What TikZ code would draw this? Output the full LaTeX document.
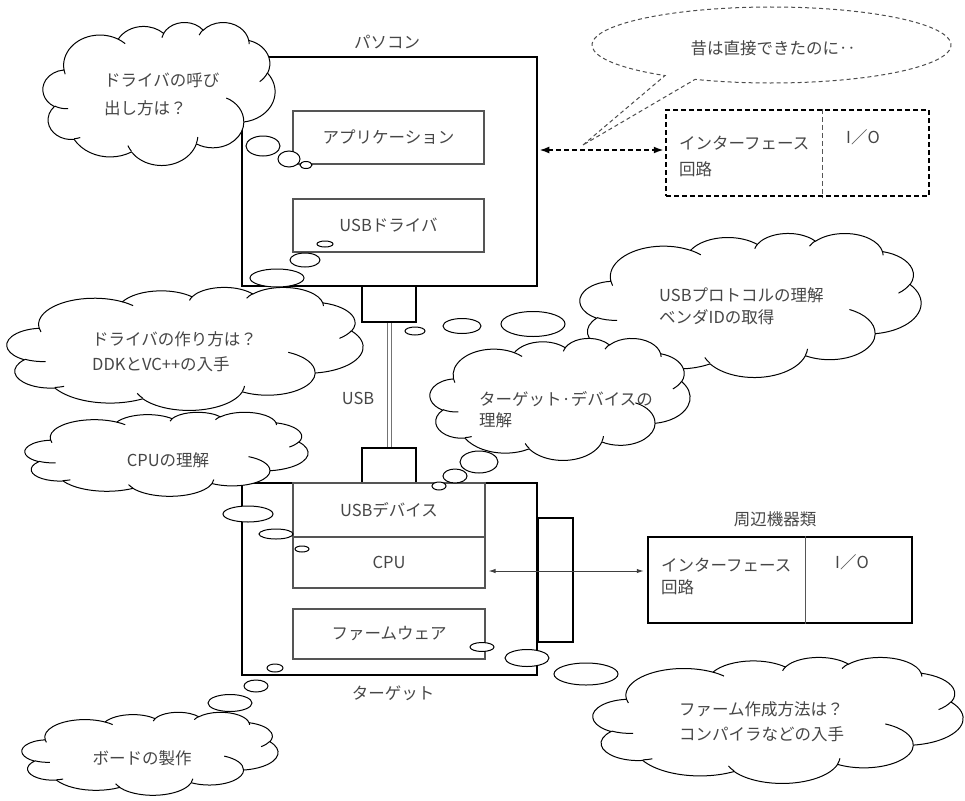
\documentclass[tikz,border=0pt]{standalone}
\usepackage{fontspec}
\setmainfont{Noto Sans CJK JP}
\usetikzlibrary{arrows.meta}
\definecolor{txt}{HTML}{464646}
\definecolor{inl}{HTML}{555555}
\makeatletter
\newcommand\cvtarc[5]{%
 \pgfmathsetmacro\cl@ts{atan2(#2*sin(#4),#3*cos(#4))}%
 \pgfmathsetmacro\cl@te{atan2(#2*sin(#4+#5),#3*cos(#4+#5))}%
 \pgfmathsetmacro\cl@d{\cl@te-\cl@ts}%
 \pgfmathsetmacro\cl@d{\cl@d<0 ? \cl@d+360 : \cl@d}%
 \expandafter\global\expandafter\let\csname cls#1\endcsname\cl@ts
 \expandafter\global\expandafter\let\csname cld#1\endcsname\cl@d}
\makeatother
\cvtarc{a}{67.53}{91.90}{-190.4875}{123.7805}
\cvtarc{b}{53.33}{72.67}{-144.1024}{89.9452}
\cvtarc{c}{43.65}{59.45}{-145.8079}{99.7230}
\cvtarc{d}{48.57}{65.95}{-130.9861}{117.2417}
\cvtarc{e}{53.33}{72.73}{-78.7089}{109.0269}
\cvtarc{f}{67.75}{92.20}{-46.2673}{130.2690}
\cvtarc{g}{57.85}{78.67}{0.6250}{114.0333}
\cvtarc{h}{67.52}{92.15}{22.4516}{115.1726}
\cvtarc{i}{77.20}{105.43}{66.2426}{75.7110}
\cvtarc{j}{43.60}{59.18}{-274.9421}{146.7356}
\cvtarc{k}{43.45}{59.45}{-246.8285}{152.5189}
\cvtarc{ia}{43.45}{59.45}{86.7420}{26.4295}
\cvtarc{ib}{43.60}{59.18}{73.6105}{11.4475}
\cvtarc{ic}{67.52}{92.15}{137.6242}{14.0811}
\cvtarc{id}{67.52}{92.15}{6.4533}{15.9984}
\cvtarc{ie}{57.85}{78.67}{-70.2924}{70.9174}
\cvtarc{if}{53.33}{72.73}{30.3180}{27.7515}
\cvtarc{ig}{48.57}{65.95}{-13.7443}{14.8589}
\cvtarc{ih}{48.57}{65.95}{-149.1815}{18.1954}
\cvtarc{ii}{43.65}{59.45}{-163.4943}{17.6864}
\cvtarc{ij}{67.53}{91.90}{-66.7070}{12.3194}
\cvtarc{ik}{67.53}{91.90}{157.6544}{11.8582}
\newcommand\drawcloud[4]{%
 \begin{scope}[shift={(#1,#2)},xscale=#3/432,yscale=#4/432]
 \draw[cloudline,fill=white] (39.00,143.70)
  arc[start angle=\clsa,delta angle=\clda,x radius=67.53,y radius=91.90]
  arc[start angle=\clsb,delta angle=\cldb,x radius=53.33,y radius=72.67]
  arc[start angle=\clsc,delta angle=\cldc,x radius=43.65,y radius=59.45]
  arc[start angle=\clsd,delta angle=\cldd,x radius=48.57,y radius=65.95]
  arc[start angle=\clse,delta angle=\clde,x radius=53.33,y radius=72.73]
  arc[start angle=\clsf,delta angle=\cldf,x radius=67.75,y radius=92.20]
  arc[start angle=\clsg,delta angle=\cldg,x radius=57.85,y radius=78.67]
  arc[start angle=\clsh,delta angle=\cldh,x radius=67.52,y radius=92.15]
  arc[start angle=\clsi,delta angle=\cldi,x radius=77.20,y radius=105.43]
  arc[start angle=\clsj,delta angle=\cldj,x radius=43.60,y radius=59.18]
  arc[start angle=\clsk,delta angle=\cldk,x radius=43.45,y radius=59.45]
  -- cycle;
 \draw[cloudline]
  (46.93,261.77) arc[start angle=\clsia,delta angle=\cldia,x radius=43.45,y radius=59.45]
  (69.28,348.99) arc[start angle=\clsib,delta angle=\cldib,x radius=43.60,y radius=59.18]
  (164.78,390.90) arc[start angle=\clsic,delta angle=\cldic,x radius=67.52,y radius=92.15]
  (288.27,347.51) arc[start angle=\clsid,delta angle=\cldid,x radius=67.52,y radius=92.15]
  (341.29,229.54) arc[start angle=\clsie,delta angle=\cldie,x radius=57.85,y radius=78.67]
  (417.98,153.54) arc[start angle=\clsif,delta angle=\cldif,x radius=53.33,y radius=72.73]
  (383.24,54.26) arc[start angle=\clsig,delta angle=\cldig,x radius=48.57,y radius=65.95]
  (290.78,39.52) arc[start angle=\clsih,delta angle=\cldih,x radius=48.57,y radius=65.95]
  (221.41,47.20) arc[start angle=\clsii,delta angle=\cldii,x radius=43.65,y radius=59.45]
  (140.00,51.92) arc[start angle=\clsij,delta angle=\cldij,x radius=67.53,y radius=91.90]
  (41.27,157.89) arc[start angle=\clsik,delta angle=\cldik,x radius=67.53,y radius=91.90];
 \end{scope}}
\newcommand\jf{\fontsize{16.5}{25}\selectfont}
\begin{document}
\begin{tikzpicture}[x=1pt,y=-1pt,
  outer/.style={draw=black,line width=2.5pt,inner sep=0pt},
  inbox/.style={draw=inl,line width=1.1pt,inner sep=0pt,text=txt,font=\jf},
  lbl/.style={text=txt,font=\jf,inner sep=0pt},
  cloudline/.style={draw=black,line width=1pt},
  bub/.style={draw=black,line width=1pt,fill=white},
  cable/.style={draw=black!55,line width=1pt,double=white,double distance=3pt},
  thinarr/.style={draw=black!75,line width=1pt,{Latex[length=7pt,width=4.5pt]}-{Latex[length=7pt,width=4.5pt]},shorten <=3pt,shorten >=3pt},
  dasharr/.style={draw=black,line width=2.5pt,dash pattern=on 5pt off 3pt,{Latex[length=10pt,width=7pt]}-{Latex[length=10pt,width=7pt]},shorten <=1pt,shorten >=1pt},
  callout/.style={draw=black!70,line width=1pt,dash pattern=on 4pt off 3pt,fill=white},
  divl/.style={draw=inl,line width=1.1pt}]
\useasboundingbox (0,0) rectangle (965,800);
% PC
\node[outer,minimum width=295pt,minimum height=229pt] (pc) at (389.5,171.5) {};
\node[lbl] (pcl) at (387,42) {パソコン};
\node[inbox,minimum width=191pt,minimum height=53pt] (app) at (388.5,137.5) {アプリケーション};
\node[inbox,minimum width=191pt,minimum height=53pt] (drv) at (388.5,225.5) {USBドライバ};
\node[outer,minimum width=54pt,minimum height=36pt] (pcport) at (389,304) {};
\node[outer,minimum width=54pt,minimum height=35pt] (tgport) at (389,465.5) {};
\draw[cable] (pcport.south) -- (tgport.north);
\node[lbl] (usbl) at (358,398) {USB};
% target
\node[outer,minimum width=295pt,minimum height=192pt] (tg) at (389.5,579) {};
\node[inbox,minimum width=192pt,minimum height=54pt] (dev) at (389,510) {USBデバイス};
\node[inbox,minimum width=192pt,minimum height=51pt] (cpu) at (389,562.5) {CPU};
\node[inbox,minimum width=192pt,minimum height=50pt] (firm) at (389,634) {ファームウェア};
\node[lbl] (tgl) at (393,693) {ターゲット};
\node[outer,minimum width=35pt,minimum height=124pt] (side) at (555.5,580) {};
% peripheral
\node[outer,minimum width=264pt,minimum height=86pt] (per) at (780,580) {};
\draw[divl] ([xshift=159pt]per.north west) -- ([xshift=159pt]per.south west);
\node[lbl] (perl) at (775,519) {周辺機器類};
\node[lbl,align=left,anchor=west,font=\fontsize{16.5}{22}\selectfont] (pert) at (661,576) {インターフェース\\回路};
\node[lbl] (perio) at (852,562) {I／O};
\coordinate (a1) at ([yshift=-8.5pt]cpu.east);
\draw[thinarr] (a1) -- (a1 -| per.west);
% old dashed box
\node[outer,dash pattern=on 5pt off 3pt,minimum width=263pt,minimum height=86pt] (dbx) at (797.5,153) {};
\draw[divl,dash pattern=on 5pt off 3pt] ([xshift=158pt]dbx.north west) -- ([xshift=158pt]dbx.south west);
\node[lbl,align=left,anchor=west,font=\fontsize{16.5}{26}\selectfont] (dbt) at (679,156) {インターフェース\\回路};
\node[lbl] (dbio) at (863,137) {I／O};
\coordinate (d1) at ([yshift=21.5pt]pc.east);
\draw[dasharr] (d1) -- (d1 -| dbx.west);
% callout
\coordinate (ec) at (771.5,45);
\coordinate (tip) at (583,145);
\draw[callout] (tip) -- ([shift={(126.4:179.5 and 38)}]ec) arc[start angle=126.4,delta angle=348.8,x radius=179.5,y radius=38] -- cycle;
\node[lbl] (say) at (773,48) {昔は直接できたのに‥};
% clouds
\drawcloud{43}{22}{232}{143}
\node[lbl,align=left,anchor=west,font=\fontsize{16.5}{28}\selectfont] (cA) at (104,94) {ドライバの呼び\\出し方は？};
\drawcloud{7}{287}{356}{123}
\node[lbl,align=left,anchor=west] (cB) at (92,352) {ドライバの作り方は？\\DDKとVC++の入手};
\drawcloud{25}{412}{283}{84}
\node[lbl] (cC) at (168,460) {CPUの理解};
\drawcloud{580}{233}{341}{144}
\node[lbl,align=left,anchor=west,font=\fontsize{16.5}{22}\selectfont] (cE) at (659,306) {USBプロトコルの理解\\ベンダIDの取得};
\drawcloud{430}{338}{260}{122}
\node[lbl,align=left,anchor=west,font=\fontsize{16.5}{21}\selectfont] (cD) at (479,410) {ターゲット·デバイスの\\理解};
\drawcloud{593}{657}{370}{126}
\node[lbl,align=left,anchor=west] (cF) at (679,722) {ファーム作成方法は？\\コンパイラなどの入手};
\drawcloud{22}{712}{256}{83}
\node[lbl] (cG) at (142,758) {ボードの製作};
% thought bubbles
\draw[bub] (263,146) ellipse[x radius=17,y radius=10];
\draw[bub] (289,159) ellipse[x radius=11,y radius=8];
\draw[bub] (306,165) ellipse[x radius=6,y radius=3.5];
\draw[bub] (325,244) ellipse[x radius=8,y radius=3];
\draw[bub] (305,260) ellipse[x radius=15,y radius=7];
\draw[bub] (277,278) ellipse[x radius=27,y radius=9];
\draw[bub] (415,331) ellipse[x radius=10,y radius=4];
\draw[bub] (462,326) ellipse[x radius=19,y radius=7.5];
\draw[bub] (533,324) ellipse[x radius=32,y radius=12.5];
\draw[bub] (248,514) ellipse[x radius=25,y radius=8];
\draw[bub] (276,534) ellipse[x radius=17,y radius=5];
\draw[bub] (302,549) ellipse[x radius=7,y radius=3];
\draw[bub] (439,486) ellipse[x radius=7,y radius=4];
\draw[bub] (455,476) ellipse[x radius=12,y radius=7];
\draw[bub] (479,462) ellipse[x radius=19,y radius=11];
\draw[bub] (482,647) ellipse[x radius=12,y radius=4.5];
\draw[bub] (527,658) ellipse[x radius=22,y radius=8.5];
\draw[bub] (586,674) ellipse[x radius=32,y radius=11];
\draw[bub] (275,668) ellipse[x radius=8,y radius=4];
\draw[bub] (256,686) ellipse[x radius=12,y radius=6];
\draw[bub] (230,703) ellipse[x radius=22,y radius=8.5];
\end{tikzpicture}
\end{document}
